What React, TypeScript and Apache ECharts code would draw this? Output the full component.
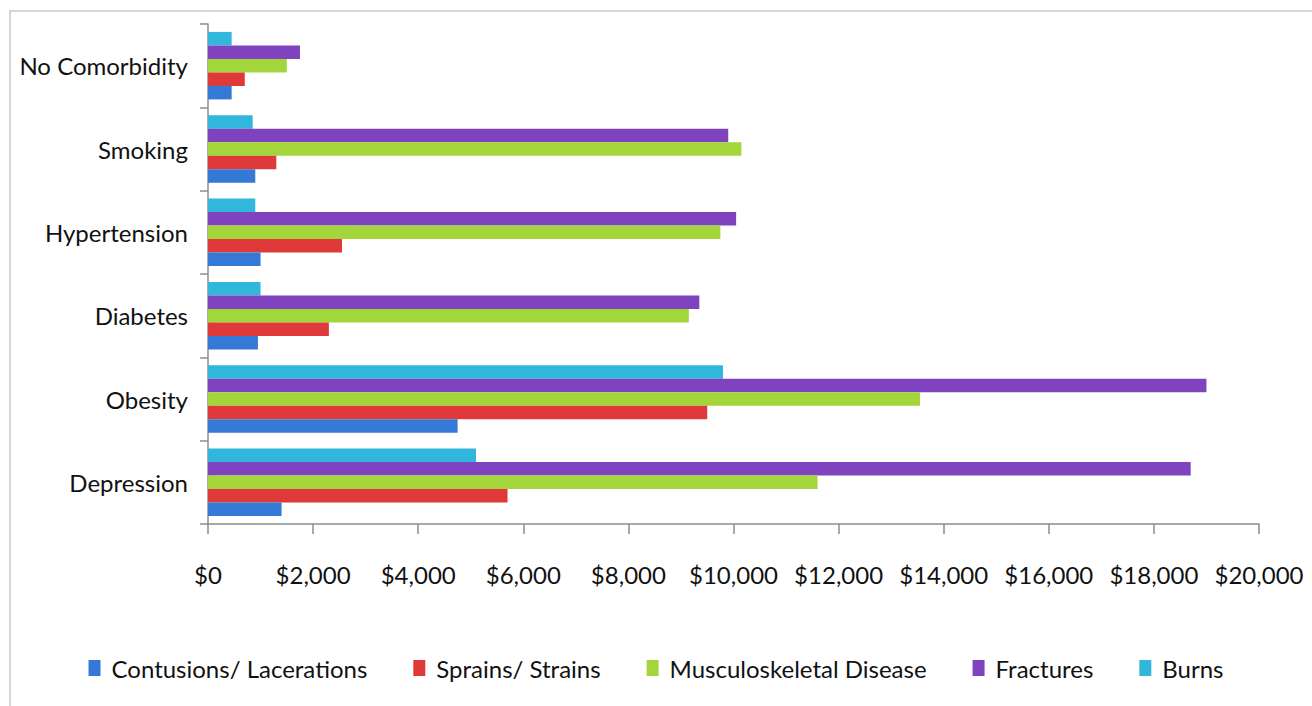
import React, { useEffect, useRef } from "react";
import * as echarts from "echarts";

const categories = ["Depression", "Obesity", "Diabetes", "Hypertension", "Smoking", "No Comorbidity"];
const seriesNames = ["Contusions/ Lacerations", "Sprains/ Strains", "Musculoskeletal Disease", "Fractures", "Burns"];
const contusions = [1400, 4750, 950, 1000, 900, 450];
const sprains = [5700, 9500, 2300, 2550, 1300, 700];
const musculoskeletal = [11600, 13550, 9150, 9750, 10150, 1500];
const fractures = [18700, 19000, 9350, 10050, 9900, 1750];
const burns = [5100, 9800, 1000, 900, 850, 450];
const colors = ["#3479D6", "#E0393A", "#A3D63A", "#7F43C0", "#31B6DC"];

export default function App() {
  const ref = useRef<HTMLDivElement>(null);
  useEffect(() => {
    if (!ref.current) return;
    const chart = echarts.init(ref.current, undefined, { renderer: "svg" });
    const values = [contusions, sprains, musculoskeletal, fractures, burns];
    const font = "Lato, 'Open Sans', sans-serif";
    const order = [4, 3, 2, 1, 0];
    chart.setOption({
      animation: false,
      backgroundColor: "#ffffff",
      textStyle: { fontFamily: font },
      grid: { left: 208, right: 53, top: 24, bottom: 182, containLabel: false },
      legend: {
        bottom: 21,
        left: "center",
        itemWidth: 12,
        itemHeight: 16,
        itemGap: 46,
        icon: "rect",
        textStyle: { fontSize: 24, color: "#111111", fontFamily: font, padding: [0, 0, 0, 6] },
        data: seriesNames,
      },
      xAxis: {
        type: "value",
        min: 0,
        max: 20000,
        interval: 2000,
        splitLine: { show: false },
        axisLine: { show: true, lineStyle: { color: "#8c8c8c", width: 1.5 } },
        axisTick: { show: true, length: 10, lineStyle: { color: "#8c8c8c", width: 1.5 } },
        axisLabel: {
          fontSize: 24,
          color: "#111111",
          margin: 38,
          formatter: (v: number) => "$" + v.toLocaleString("en-US"),
        },
      },
      yAxis: {
        type: "category",
        data: categories,
        axisLine: { show: true, lineStyle: { color: "#8c8c8c", width: 1.5 } },
        axisTick: { show: true, length: 8, lineStyle: { color: "#8c8c8c", width: 1.5 } },
        axisLabel: { fontSize: 24, color: "#111111", margin: 20 },
      },
      graphic: [
        {
          type: "polyline",
          shape: { points: [[10, 720], [10, 11], [1330, 11]] },
          style: { stroke: "#d6d6d6", lineWidth: 2, fill: "none" },
          silent: true,
        },
      ],
      series: order.map((i) => ({
        name: seriesNames[i],
        type: "bar",
        data: values[i],
        barGap: "0%",
        barCategoryGap: "19%",
        itemStyle: { color: colors[i] },
      })),
    });
    return () => chart.dispose();
  }, []);
  return (
    <div
      ref={ref}
      style={{ position: "fixed", left: 0, top: 0, width: 1312, height: 706 }}
    />
  );
}
